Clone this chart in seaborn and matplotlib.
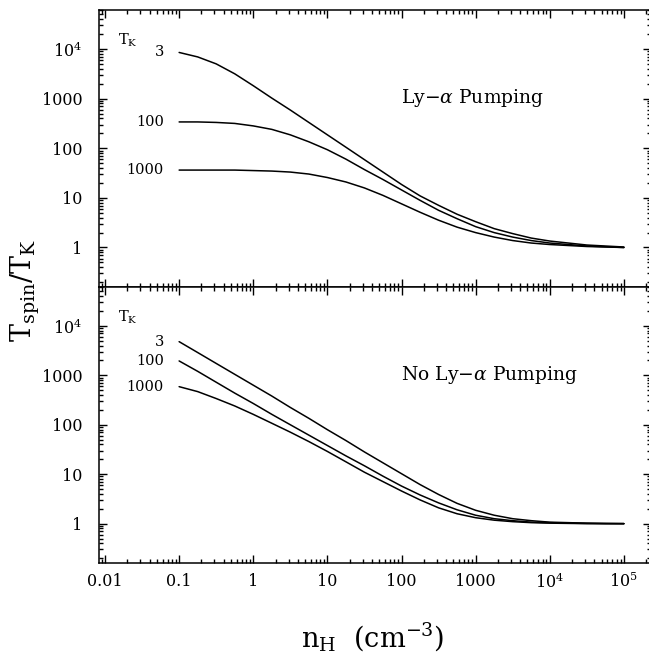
import numpy as np
import pandas as pd
import matplotlib
matplotlib.use("Agg")
import matplotlib.pyplot as plt
from matplotlib.ticker import LogLocator, FixedLocator, FixedFormatter, NullFormatter
import seaborn as sns

# densidade n_H (cm^-3) onde as curvas foram lidas (passo de 1/4 de década)
n_H = [0.1, 0.178, 0.316, 0.562, 1, 1.78, 3.16, 5.62, 10, 17.8, 31.6, 56.2, 100,
       178, 316, 562, 1000, 1780, 3160, 5620, 1e4, 1.78e4, 3.16e4, 5.62e4, 1e5]

# valores lidos do gráfico em log10(T_spin/T_K)
# painel de cima: com bombeamento Ly-alpha
com_ly_3 = [3.93, 3.84, 3.70, 3.50, 3.26, 3.01, 2.77, 2.52, 2.27, 2.02, 1.77, 1.52, 1.27,
            1.04, 0.85, 0.67, 0.52, 0.38, 0.28, 0.19, 0.13, 0.09, 0.05, 0.03, 0.01]
com_ly_100 = [2.53, 2.53, 2.52, 2.50, 2.45, 2.38, 2.27, 2.13, 1.97, 1.78, 1.57, 1.37, 1.16,
              0.95, 0.75, 0.58, 0.42, 0.30, 0.21, 0.14, 0.09, 0.06, 0.03, 0.015, 0.0]
com_ly_1000 = [1.56, 1.56, 1.56, 1.56, 1.55, 1.54, 1.52, 1.48, 1.41, 1.32, 1.20, 1.05, 0.88,
               0.71, 0.55, 0.41, 0.30, 0.21, 0.14, 0.09, 0.06, 0.04, 0.02, 0.01, 0.0]

# painel de baixo: sem bombeamento Ly-alpha
sem_ly_3 = [3.68, 3.46, 3.24, 3.02, 2.80, 2.58, 2.35, 2.13, 1.90, 1.68, 1.45, 1.23, 1.01,
            0.79, 0.59, 0.41, 0.27, 0.17, 0.10, 0.06, 0.03, 0.02, 0.01, 0.005, 0.0]
sem_ly_100 = [3.29, 3.08, 2.86, 2.64, 2.43, 2.21, 2.00, 1.79, 1.58, 1.37, 1.17, 0.96, 0.76,
              0.58, 0.42, 0.28, 0.17, 0.10, 0.06, 0.03, 0.02, 0.01, 0.005, 0.0, 0.0]
sem_ly_1000 = [2.77, 2.67, 2.53, 2.38, 2.21, 2.03, 1.85, 1.66, 1.46, 1.25, 1.04, 0.85, 0.66,
               0.48, 0.32, 0.20, 0.12, 0.07, 0.04, 0.02, 0.01, 0.005, 0.0, 0.0, 0.0]

rotulos_tk = ['3', '100', '1000']
x_ticks = [0.01, 0.1, 1, 10, 100, 1000, 1e4, 1e5]
x_tick_labels = ['0.01', '0.1', '1', '10', '100', '1000', r'$10^4$', r'$10^5$']
y_ticks = [1, 10, 100, 1000, 1e4]
y_tick_labels = ['1', '10', '100', '1000', r'$10^4$']

sns.set_style("ticks")
plt.rcParams['font.family'] = ['DejaVu Serif']
plt.rcParams['mathtext.fontset'] = 'dejavuserif'
plt.rcParams['text.color'] = 'black'
plt.rcParams['xtick.color'] = 'black'
plt.rcParams['ytick.color'] = 'black'
plt.rcParams['axes.labelcolor'] = 'black'

fig = plt.figure(figsize=(6.49, 6.53), dpi=100)
W, H = 649, 653
esq, dir_ = 99, 651
ax_cima = fig.add_axes([esq / W, 1 - 287 / H, (dir_ - esq) / W, 277 / H])
ax_baixo = fig.add_axes([esq / W, 1 - 563 / H, (dir_ - esq) / W, 276 / H])


def desenha_painel(ax, series, titulo, mostra_x):
    for vals, rot in zip(series, rotulos_tk):
        razao = 10 ** np.array(vals)
        df = pd.DataFrame({'n_H': n_H, 'razao': razao})
        sns.lineplot(data=df, x='n_H', y='razao', ax=ax, color='black', lw=1.1)
        ax.annotate(rot, xy=(n_H[0], razao[0]), xytext=(-11, 0), textcoords='offset points',
                    ha='right', va='center', fontsize=10.5)
    ax.set_xscale('log')
    ax.set_yscale('log')
    ax.set_xlim(0.0083, 2.32e5)
    ax.set_ylim(0.16, 6.1e4)
    ax.xaxis.set_major_locator(FixedLocator(x_ticks))
    ax.xaxis.set_minor_locator(LogLocator(base=10, subs=np.arange(2, 10), numticks=20))
    ax.yaxis.set_major_locator(FixedLocator(y_ticks + [1e5]))
    ax.yaxis.set_minor_locator(LogLocator(base=10, subs=np.arange(2, 10), numticks=20))
    ax.yaxis.set_major_formatter(FixedFormatter(y_tick_labels + ['']))
    ax.xaxis.set_minor_formatter(NullFormatter())
    ax.yaxis.set_minor_formatter(NullFormatter())
    if mostra_x:
        ax.xaxis.set_major_formatter(FixedFormatter(x_tick_labels))
    else:
        ax.xaxis.set_major_formatter(NullFormatter())
    ax.tick_params(which='both', direction='in', top=True, right=True, color='black', width=1.0)
    ax.tick_params(which='major', length=6, labelsize=11.5)
    ax.tick_params(axis='y', which='major', pad=12)
    ax.tick_params(axis='x', which='major', pad=7)
    ax.tick_params(which='minor', length=3)
    for s in ax.spines.values():
        s.set_linewidth(1.1)
        s.set_color('black')
    ax.set_xlabel('')
    ax.set_ylabel('')
    ax.text(0.034, 0.89, r'T$_{\rm K}$', transform=ax.transAxes, fontsize=10.5, ha='left', va='center')
    ax.text(0.548, 0.682, titulo, transform=ax.transAxes, fontsize=13.5, ha='left', va='center')


desenha_painel(ax_cima, [com_ly_3, com_ly_100, com_ly_1000], r'Ly$-\alpha$ Pumping', False)
desenha_painel(ax_baixo, [sem_ly_3, sem_ly_100, sem_ly_1000], r'No Ly$-\alpha$ Pumping', True)

fig.text(25 / W, 1 - 290 / H, r'T$_{\rm spin}$/T$_{\rm K}$', rotation=90, ha='center', va='center', fontsize=19.5)
fig.text(373 / W, 1 - 637 / H, r'n$_{\rm H}$  (cm$^{-3}$)', ha='center', va='center', fontsize=19.5)

fig.savefig('out.png', dpi=100)
